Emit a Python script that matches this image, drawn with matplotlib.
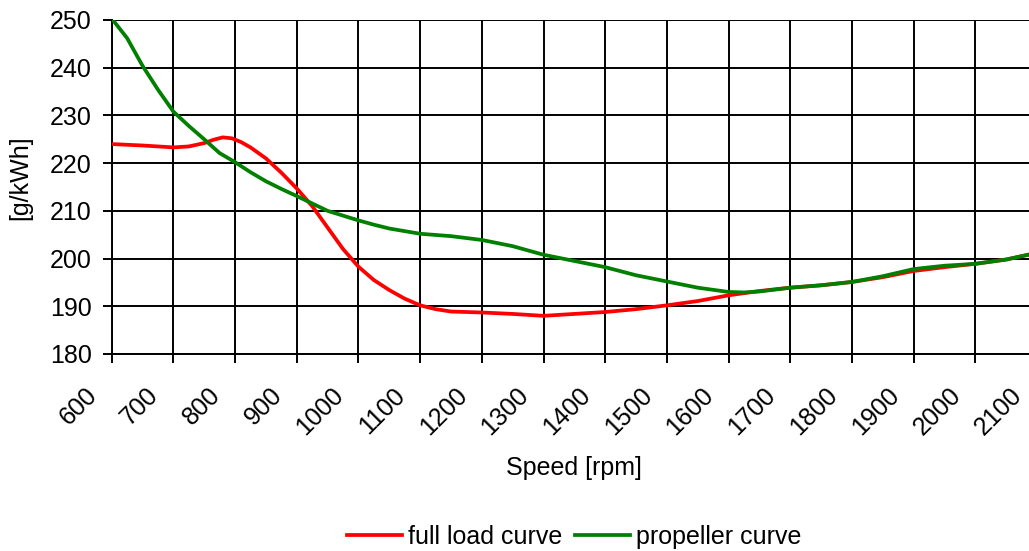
import matplotlib
matplotlib.use('Agg')
import matplotlib.pyplot as plt
import matplotlib.transforms as mtransforms

plt.rcParams['font.family'] = ['Liberation Sans', 'DejaVu Sans']

# speed [rpm] and fuel consumption [g/kWh]
speed_full = [600, 650, 700, 725, 750, 765, 780, 795, 810, 825, 850, 875, 900, 925, 950,
              975, 1000, 1025, 1050, 1075, 1100, 1125, 1150, 1200, 1250, 1300, 1350,
              1400, 1450, 1500, 1550, 1600, 1650, 1700, 1750, 1800, 1850, 1900, 1950,
              2000, 2050, 2100]
full_load = [224.0, 223.7, 223.3, 223.5, 224.2, 224.9, 225.4, 225.2, 224.4, 223.3,
             221.0, 218.0, 214.7, 211.0, 206.5, 202.0, 198.3, 195.5, 193.4, 191.6,
             190.2, 189.4, 188.9, 188.7, 188.4, 188.0, 188.4, 188.8, 189.4, 190.2,
             191.1, 192.3, 193.2, 193.9, 194.4, 195.1, 196.1, 197.4, 198.2, 198.9,
             199.8, 201.2]

speed_prop = [600, 625, 650, 675, 700, 725, 750, 775, 800, 825, 850, 875, 900, 950,
              1000, 1025, 1050, 1100, 1150, 1200, 1250, 1300, 1350, 1400, 1450, 1500,
              1550, 1600, 1625, 1650, 1700, 1750, 1800, 1850, 1900, 1950, 2000, 2050,
              2100]
propeller = [250.3, 246.2, 240.4, 235.4, 230.8, 227.8, 225.0, 222.1, 220.2, 218.1,
             216.2, 214.6, 213.1, 210.0, 208.0, 207.1, 206.3, 205.2, 204.7, 203.9,
             202.6, 200.8, 199.5, 198.2, 196.5, 195.2, 193.9, 193.0, 192.9, 193.1,
             193.9, 194.4, 195.1, 196.3, 197.8, 198.5, 198.9, 199.8, 201.2]

x_ticks = list(range(600, 2101, 100))
y_ticks = list(range(180, 251, 10))

fs = 18

fig = plt.figure(figsize=(10.29, 5.51), dpi=100)
# axes reaches past the right edge, like the cropped original
ax = fig.add_axes([111.7 / 1029, (551 - 354) / 551, (1037 - 111.7) / 1029, 334 / 551])

ax.plot(speed_full, full_load, color='#ff0000', lw=2.7, label='full load curve', zorder=3)
ax.plot(speed_prop, propeller, color='#008000', lw=2.7, label='propeller curve', zorder=4)

ax.set_xlim(600, 2100)
ax.set_ylim(180, 250)
ax.set_xticks(x_ticks)
ax.set_yticks(y_ticks)
ax.grid(True, color='black', lw=1.4)
ax.set_axisbelow(True)

for s in ['top', 'right']:
    ax.spines[s].set_visible(False)
for s in ['left', 'bottom']:
    ax.spines[s].set_color('black')
    ax.spines[s].set_linewidth(1.4)

ax.tick_params(axis='both', direction='out', length=6.5, width=1.4, labelsize=fs, colors='black')
ax.tick_params(axis='y', pad=8)
ax.tick_params(axis='x', pad=14.5)

offset = mtransforms.ScaledTranslation(-10 / 100, 0, fig.dpi_scale_trans)
for lab in ax.get_xticklabels():
    lab.set_rotation(45)
    lab.set_ha('right')
    lab.set_va('top')
    lab.set_transform(lab.get_transform() + offset)

ax.set_xlabel('Speed [rpm]', fontsize=fs)
ax.set_ylabel('[g/kWh]', fontsize=fs)
ax.xaxis.set_label_coords(0.5, -(468 - 354) / 334, transform=ax.transAxes)
ax.yaxis.set_label_coords((20 - 111.7) / 925.3, (354 - 178) / 334, transform=ax.transAxes)
ax.xaxis.label.set_va('center')
ax.yaxis.label.set_va('center')

fig.legend(loc='center', bbox_to_anchor=(574 / 1029, 14 / 551), ncol=2, frameon=False,
           fontsize=fs, handlelength=2.2, handletextpad=0.25, columnspacing=0.5)

fig.savefig('out.png', dpi=100)
